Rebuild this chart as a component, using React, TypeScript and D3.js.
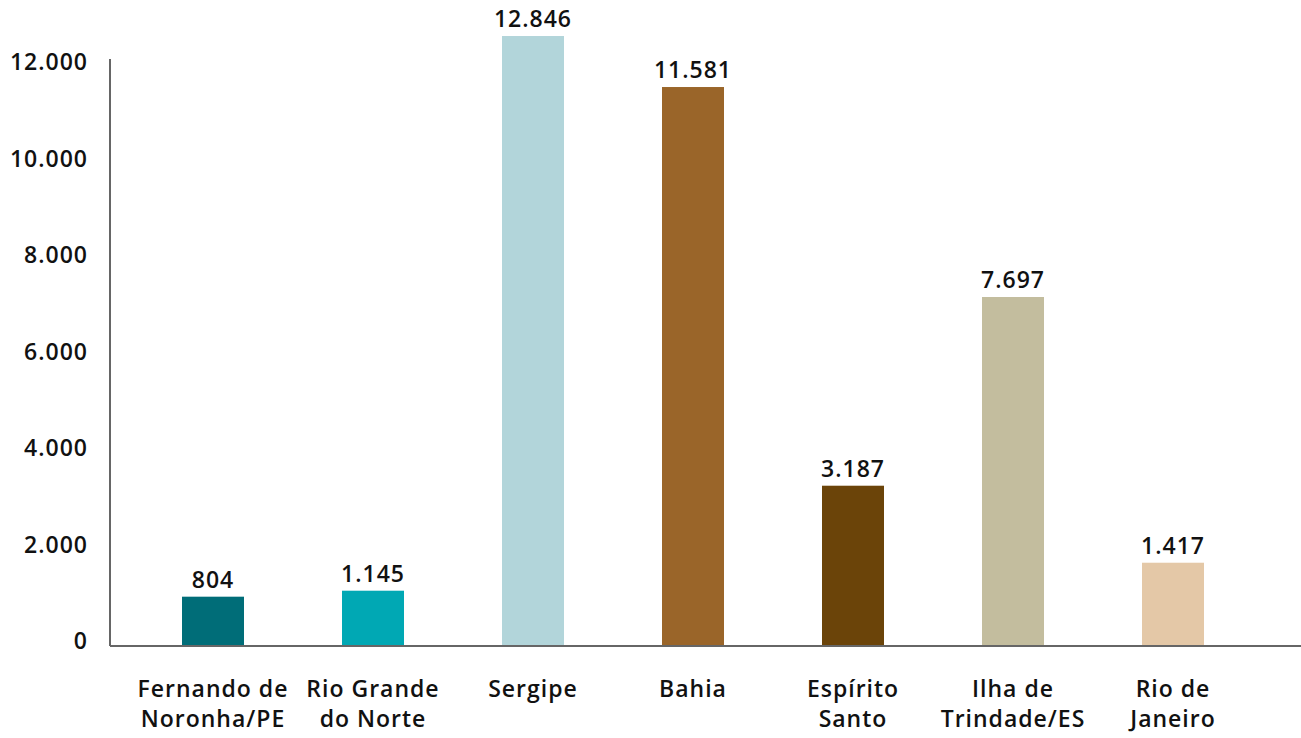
import React from "react";
import * as d3 from "d3";

const categories: string[][] = [
  ["Fernando de", "Noronha/PE"],
  ["Rio Grande", "do Norte"],
  ["Sergipe"],
  ["Bahia"],
  ["Espírito", "Santo"],
  ["Ilha de", "Trindade/ES"],
  ["Rio de", "Janeiro"],
];
// bar heights as drawn in the picture
const barValues = [1022, 1146, 12642, 11585, 3322, 7233, 1726];
// value labels as printed
const valueLabels = ["804", "1.145", "12.846", "11.581", "3.187", "7.697", "1.417"];
const colors = ["#006d78", "#00a8b4", "#b2d5da", "#9a6529", "#6b4409", "#c3bd9e", "#e4c8a7"];
const yTicks = [0, 2000, 4000, 6000, 8000, 10000, 12000];
const yTickLabels = ["0", "2.000", "4.000", "6.000", "8.000", "10.000", "12.000"];

const W = 1301;
const H = 738;
const FONT = "'Open Sans', Lato, sans-serif";
const FS = 23;
const LS = 1;

export default function App() {
  const baseY = 646;
  const y = d3.scaleLinear().domain([0, 12000]).range([baseY, baseY - 579]);
  const x = d3
    .scalePoint<number>()
    .domain(d3.range(categories.length))
    .range([133, 1253])
    .padding(0.5);
  const barW = 62;
  const axisX = 110;

  return (
    <svg
      width={W}
      height={H}
      style={{ position: "absolute", left: 0, top: 0, background: "#fff" }}
      fontFamily={FONT}
    >
      {yTicks.map((t, i) => (
        <text
          key={t}
          x={88}
          y={y(t) - 6}
          textAnchor="end"
          dominantBaseline="central"
          fontSize={FS}
          fontWeight={600}
          letterSpacing={LS}
          fill="#111"
        >
          {yTickLabels[i]}
        </text>
      ))}
      {barValues.map((v, i) => (
        <rect
          key={i}
          x={(x(i) as number) - barW / 2}
          y={y(v)}
          width={barW}
          height={baseY - y(v)}
          fill={colors[i]}
        />
      ))}
      {barValues.map((v, i) => (
        <text
          key={"l" + i}
          x={x(i) as number}
          y={y(v) - 9}
          textAnchor="middle"
          fontSize={FS}
          fontWeight={600}
          letterSpacing={LS}
          fill="#111"
        >
          {valueLabels[i]}
        </text>
      ))}
      <line x1={axisX} x2={axisX} y1={59} y2={baseY} stroke="#333" strokeWidth={1.5} />
      <line x1={axisX} x2={W} y1={baseY} y2={baseY} stroke="#666" strokeWidth={2} />
      {categories.map((lines, i) =>
        lines.map((ln, j) => (
          <text
            key={"c" + i + "-" + j}
            x={x(i) as number}
            y={697 + j * 30}
            textAnchor="middle"
            fontSize={FS}
            fontWeight={600}
            letterSpacing={LS}
            fill="#111"
          >
            {ln}
          </text>
        ))
      )}
    </svg>
  );
}
